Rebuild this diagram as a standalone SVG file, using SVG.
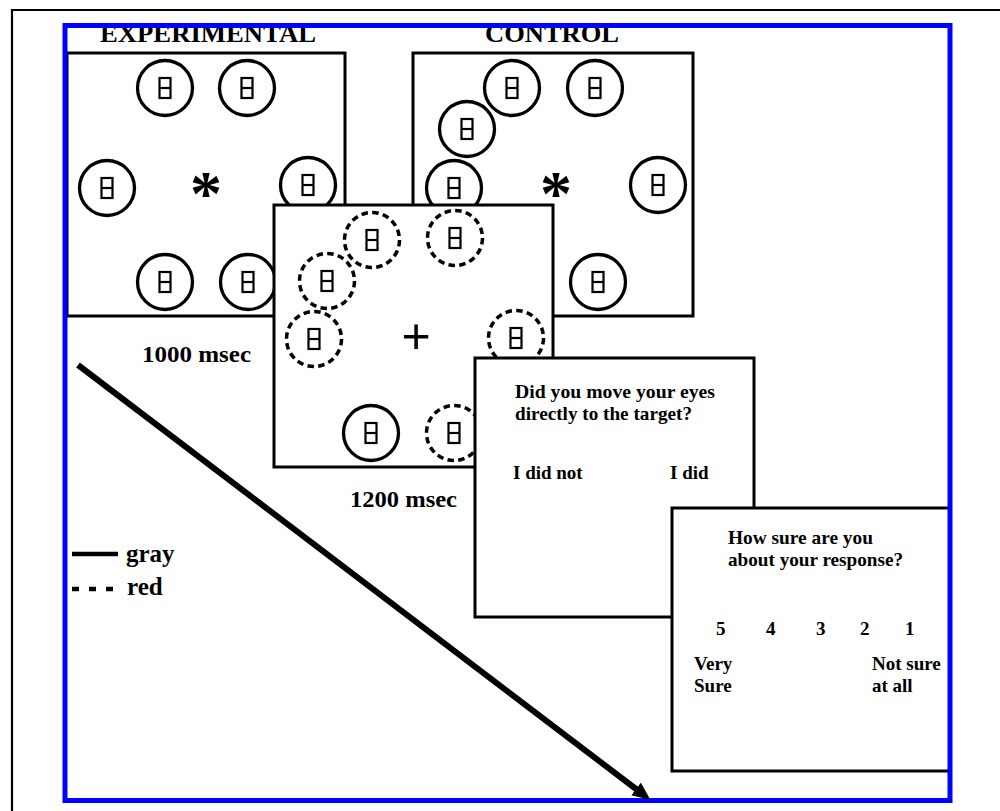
<svg xmlns="http://www.w3.org/2000/svg" xmlns:xlink="http://www.w3.org/1999/xlink" width="1000" height="811" viewBox="0 0 1000 811">
<style>
.t{font-family:"Liberation Serif","Times New Roman",serif;font-weight:bold;fill:#000}
.panel{fill:#fff;stroke:#000;stroke-width:3}
.c{fill:none;stroke:#000;stroke-width:3.3}
.cd{fill:none;stroke:#000;stroke-width:3.5;stroke-dasharray:6.5 4.3}
.bx{fill:none;stroke:#000;stroke-width:2.2}
</style>
<defs>
<g id="box"><rect class="bx" x="-5.5" y="-10" width="11" height="20"/><line class="bx" x1="-5.5" y1="0" x2="5.5" y2="0"/></g>
<g id="stim"><circle class="c" r="27.5"/><use xlink:href="#box"/></g>
<g id="stimd"><circle class="cd" r="27.5"/><use xlink:href="#box"/></g>
<marker id="ah" markerUnits="userSpaceOnUse" markerWidth="18" markerHeight="16" viewBox="0 0 18 16" refX="5" refY="8" orient="auto"><path d="M0,0 L18,8 L0,16 z" fill="#000"/></marker>
</defs>
<rect width="1000" height="811" fill="#fff"/>
<path d="M12,811 V10 H1000" fill="none" stroke="#000" stroke-width="2.2"/>

<g id="titles">
<text class="t" x="100" y="42" font-size="26" textLength="216" lengthAdjust="spacingAndGlyphs">EXPERIMENTAL</text>
<text class="t" x="485" y="42" font-size="26" textLength="134" lengthAdjust="spacingAndGlyphs">CONTROL</text>
</g>

<g id="experimental">
<rect class="panel" x="67" y="53" width="278" height="263"/>
<use xlink:href="#stim" x="165" y="88"/>
<use xlink:href="#stim" x="247" y="88"/>
<use xlink:href="#stim" x="107" y="188"/>
<use xlink:href="#stim" x="308" y="185"/>
<use xlink:href="#stim" x="165" y="282"/>
<use xlink:href="#stim" x="248" y="282"/>
<text class="t" x="206" y="215" font-size="64" text-anchor="middle">*</text>
<text class="t" x="142" y="362" font-size="24" textLength="109" lengthAdjust="spacingAndGlyphs">1000 msec</text>
</g>

<g id="control">
<rect class="panel" x="413" y="53" width="280" height="263"/>
<use xlink:href="#stim" x="512" y="88"/>
<use xlink:href="#stim" x="595" y="88"/>
<use xlink:href="#stim" x="467" y="129"/>
<use xlink:href="#stim" x="454" y="188"/>
<use xlink:href="#stim" x="658" y="185"/>
<use xlink:href="#stim" x="598" y="282"/>
<text class="t" x="556" y="215" font-size="64" text-anchor="middle">*</text>
</g>

<g id="search">
<rect class="panel" x="274" y="205" width="279" height="262"/>
<use xlink:href="#stimd" x="372" y="240"/>
<use xlink:href="#stimd" x="455" y="238"/>
<use xlink:href="#stimd" x="327" y="281"/>
<use xlink:href="#stimd" x="314" y="339"/>
<use xlink:href="#stimd" x="516" y="338"/>
<use xlink:href="#stim" x="371" y="433"/>
<use xlink:href="#stimd" x="454" y="433"/>
<text x="416" y="353" font-family="Liberation Sans, Arial, sans-serif" font-size="50" text-anchor="middle">+</text>
<text class="t" x="350" y="507" font-size="24" textLength="107" lengthAdjust="spacingAndGlyphs">1200 msec</text>
</g>

<g id="question1">
<rect class="panel" x="475" y="358" width="279" height="259"/>
<text class="t" x="515" y="398" font-size="19" textLength="200" lengthAdjust="spacingAndGlyphs">Did you move your eyes</text>
<text class="t" x="515" y="420" font-size="19" textLength="177" lengthAdjust="spacingAndGlyphs">directly to the target?</text>
<text class="t" x="513" y="479" font-size="19">I did not</text>
<text class="t" x="670" y="479" font-size="19">I did</text>
</g>

<g id="question2">
<rect class="panel" x="672" y="508" width="278" height="263"/>
<text class="t" x="728" y="544" font-size="19" textLength="145" lengthAdjust="spacingAndGlyphs">How sure are you</text>
<text class="t" x="728" y="566" font-size="19" textLength="175" lengthAdjust="spacingAndGlyphs">about your response?</text>
<text class="t" x="716" y="635" font-size="19">5</text>
<text class="t" x="766" y="635" font-size="19">4</text>
<text class="t" x="816" y="635" font-size="19">3</text>
<text class="t" x="860" y="635" font-size="19">2</text>
<text class="t" x="905" y="635" font-size="19">1</text>
<text class="t" x="694" y="670" font-size="19">Very</text>
<text class="t" x="694" y="692" font-size="19">Sure</text>
<text class="t" x="872" y="670" font-size="19">Not sure</text>
<text class="t" x="872" y="692" font-size="19">at all</text>
</g>

<g id="legend">
<line x1="72" y1="554" x2="118" y2="554" stroke="#000" stroke-width="4.5"/>
<text class="t" x="126" y="562" font-size="25">gray</text>
<line x1="72" y1="589" x2="118" y2="589" stroke="#000" stroke-width="4.5" stroke-dasharray="7 10"/>
<text class="t" x="127" y="595" font-size="25">red</text>
</g>

<rect x="65" y="25.5" width="885" height="775" fill="none" stroke="#0000ff" stroke-width="5"/>

<g id="connectors">
<line x1="78" y1="365" x2="640" y2="792" stroke="#000" stroke-width="6" marker-end="url(#ah)"/>
</g>
</svg>
